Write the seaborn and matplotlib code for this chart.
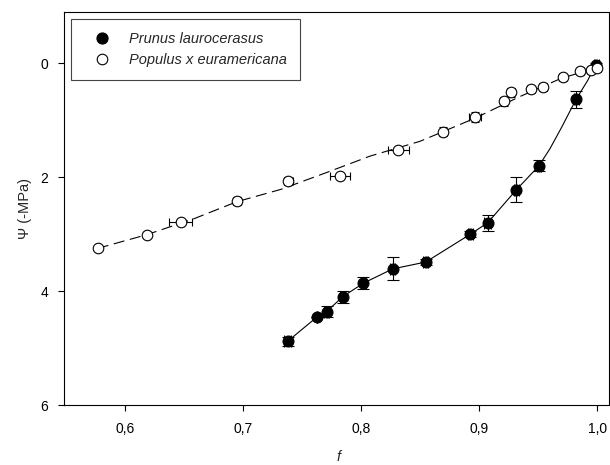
import numpy as np
import pandas as pd
import seaborn as sns
import matplotlib.pyplot as plt
from matplotlib.lines import Line2D
from matplotlib.ticker import FuncFormatter

# Prunus laurocerasus (filled)
prunus_f = [0.738, 0.7624, 0.7709, 0.7844, 0.8021, 0.8269, 0.8548, 0.8927, 0.9073, 0.9316, 0.9507, 0.9822, 0.9993]
prunus_psi = [4.88, 4.46, 4.36, 4.10, 3.86, 3.61, 3.49, 3.00, 2.80, 2.22, 1.80, 0.63, 0.03]
prunus_xerr = [0.003, 0.0, 0.002, 0.002, 0.002, 0.002, 0.002, 0.002, 0.003, 0.002, 0.002, 0.002, 0.002]
prunus_yerr = [0.08, 0.0, 0.09, 0.11, 0.11, 0.20, 0.05, 0.05, 0.14, 0.22, 0.10, 0.15, 0.03]

# Populus x euramericana (open)
populus_f = [0.5776, 0.6185, 0.6474, 0.6953, 0.7386, 0.7825, 0.8317, 0.8696, 0.8965, 0.9207,
             0.9270, 0.9437, 0.9544, 0.9710, 0.9856, 0.9947, 1.0000]
populus_psi = [3.25, 3.01, 2.78, 2.41, 2.06, 1.98, 1.52, 1.20, 0.95, 0.67,
               0.51, 0.46, 0.41, 0.25, 0.135, 0.12, 0.09]
populus_xerr = [0.001, 0.001, 0.0096, 0.0035, 0.004, 0.0085, 0.009, 0.003, 0.005, 0.003,
                0.003, 0.003, 0.003, 0.003, 0.003, 0.003, 0.003]
populus_yerr = [0.02, 0.02, 0.04, 0.07, 0.07, 0.04, 0.05, 0.08, 0.09, 0.08,
                0.08, 0.06, 0.07, 0.06, 0.05, 0.05, 0.05]

# fitted curves
prunus_fit_f = [0.738, 0.7624, 0.7709, 0.7844, 0.8021, 0.8269, 0.8548, 0.8927, 0.9073, 0.9316,
                0.9507, 0.960, 0.970, 0.9822, 0.992, 0.9993]
prunus_fit_psi = [4.88, 4.46, 4.36, 4.10, 3.86, 3.61, 3.49, 3.00, 2.80, 2.22,
                  1.80, 1.50, 1.12, 0.63, 0.30, 0.0]
populus_fit_f = [0.577, 0.6185, 0.6585, 0.695, 0.732, 0.77, 0.8077, 0.85, 0.897, 0.934, 0.97, 1.0]
populus_fit_psi = [3.25, 3.01, 2.73, 2.43, 2.215, 1.925, 1.63, 1.37, 0.96, 0.59, 0.26, 0.08]

labels = ["Prunus laurocerasus", "Populus x euramericana"]

prunus = pd.DataFrame({"f": prunus_f, "psi": prunus_psi})
populus = pd.DataFrame({"f": populus_f, "psi": populus_psi})
prunus_fit = pd.DataFrame({"f": prunus_fit_f, "psi": prunus_fit_psi})
populus_fit = pd.DataFrame({"f": populus_fit_f, "psi": populus_fit_psi})

sns.set_style("ticks")
plt.rcParams["font.family"] = ["Liberation Sans", "DejaVu Sans"]
plt.rcParams["font.size"] = 10

fig = plt.figure(figsize=(6.1, 4.65), dpi=100)
ax = fig.add_axes([64 / 610, 60 / 465, 545 / 610, 393 / 465])

# curves
sns.lineplot(data=prunus_fit, x="f", y="psi", sort=False, color="black", lw=0.8, ax=ax)
sns.lineplot(data=populus_fit, x="f", y="psi", sort=False, color="black", lw=0.8,
             linestyle=(0, (10, 5)), ax=ax)

# error bars
ax.errorbar(prunus_f, prunus_psi, xerr=prunus_xerr, yerr=prunus_yerr, fmt="none",
            ecolor="black", elinewidth=0.8, capsize=4, capthick=0.8, zorder=3)
ax.errorbar(populus_f, populus_psi, xerr=populus_xerr, yerr=populus_yerr, fmt="none",
            ecolor="black", elinewidth=0.8, capsize=3, capthick=0.8, zorder=3)

# points
sns.scatterplot(data=prunus, x="f", y="psi", color="black", edgecolor="black",
                s=62, linewidth=0.8, zorder=4, ax=ax)
sns.scatterplot(data=populus, x="f", y="psi", color="white", edgecolor="black",
                s=58, linewidth=0.8, zorder=5, ax=ax)

ax.set_xlim(0.5485, 1.01)
ax.set_ylim(6, -0.9)
ax.set_xticks([0.6, 0.7, 0.8, 0.9, 1.0])
ax.set_yticks([0, 2, 4, 6])
ax.xaxis.set_major_formatter(FuncFormatter(lambda v, p: f"{v:.1f}".replace(".", ",")))
ax.tick_params(axis="both", direction="out", length=4, width=0.8, labelsize=10,
               colors="black")
ax.tick_params(axis="x", pad=8)
ax.tick_params(axis="y", pad=7.5)
for sp in ax.spines.values():
    sp.set_linewidth(0.8)
    sp.set_color("black")

ax.set_xlabel("f", fontstyle="italic", fontsize=10.5, va="center")
ax.set_ylabel("Ψ (-MPa)", fontsize=10.5)
ax.xaxis.set_label_coords(0.503, -0.133)
ax.yaxis.set_label_coords(-0.058, 0.5)

handles = [
    Line2D([], [], marker="o", linestyle="none", markersize=8, markerfacecolor="black",
           markeredgecolor="black", markeredgewidth=0.8),
    Line2D([], [], marker="o", linestyle="none", markersize=7.6, markerfacecolor="white",
           markeredgecolor="black", markeredgewidth=0.8),
]
leg = ax.legend(handles, labels, loc="upper left", bbox_to_anchor=(7 / 545, 1 - 7 / 393),
                borderaxespad=0, borderpad=0.9, handlelength=2.4, handletextpad=0.68,
                labelspacing=0.45, fancybox=False, framealpha=1,
                prop={"style": "italic", "size": 10.5})
leg.get_frame().set_edgecolor("#444444")
leg.get_frame().set_linewidth(0.8)

fig.savefig("out.png", dpi=100)
